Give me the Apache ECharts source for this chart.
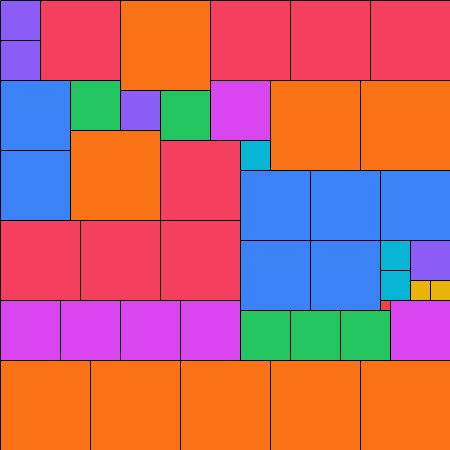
<!DOCTYPE html>
<html>
<head>
<meta charset="utf-8">
<script src="https://cdn.jsdelivr.net/npm/echarts@6/dist/echarts.min.js"></script>
<style>html,body{margin:0;padding:0;background:#fff}#c{width:450px;height:450px}</style>
</head>
<body>
<div id="c"></div>
<script>
// Partridge packing: n squares of side n (n = 1..9) in a 45 x 45 square
const squareX = [38, 41,43, 24,38,38, 0,0,12,41, 7,16,24,29,34, 21,0,6,12,18,39, 0,0,24,31,38,24,31, 4,21,29,37,16,0,8,16, 12,27,36,7,0,9,18,27,36];
const squareY = [30, 28,28, 14,24,27, 0,4,9,24, 8,9,31,31,31, 8,30,30,30,30,30, 8,15,17,17,17,24,24, 0,0,0,0,14,22,22,22, 0,8,8,13,36,36,36,36,36];
const squareSize = [1, 2,2, 3,3,3, 4,4,4,4, 5,5,5,5,5, 6,6,6,6,6,6, 7,7,7,7,7,7,7, 8,8,8,8,8,8,8,8, 9,9,9,9,9,9,9,9,9];
const sideColors = {1:'#ef4444',2:'#eab308',3:'#06b6d4',4:'#8b5cf6',5:'#22c55e',6:'#d946ef',7:'#3b82f6',8:'#f43f5e',9:'#f97316'};

const data = squareX.map((x, i) => [x, squareY[i], squareSize[i]]);
const chart = echarts.init(document.getElementById('c'));
chart.setOption({
  animation: false,
  grid: {left: 0, right: 0, top: 0, bottom: 0},
  xAxis: {type: 'value', min: 0, max: 45, show: false},
  yAxis: {type: 'value', min: 0, max: 45, inverse: true, show: false},
  series: [{
    type: 'custom',
    data: data,
    renderItem: function (params, api) {
      const x = api.value(0), y = api.value(1), s = api.value(2);
      const p0 = api.coord([x, y]);
      const p1 = api.coord([x + s, y + s]);
      return {
        type: 'rect',
        shape: {x: Math.round(p0[0]) + 0.5, y: Math.round(p0[1]) + 0.5,
                width: Math.round(p1[0]) - Math.round(p0[0]), height: Math.round(p1[1]) - Math.round(p0[1])},
        style: {fill: sideColors[s], stroke: '#000', lineWidth: 1}
      };
    }
  }]
});
</script>
</body>
</html>
